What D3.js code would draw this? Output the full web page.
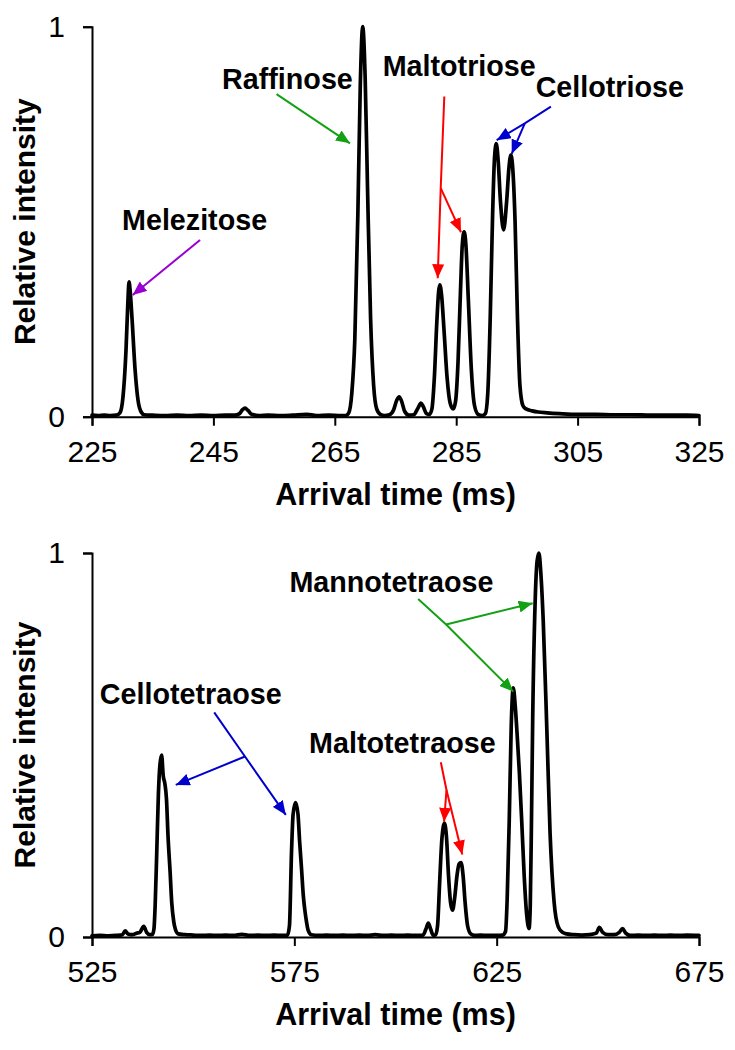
<!DOCTYPE html>
<html><head><meta charset="utf-8">
<script src="https://cdn.jsdelivr.net/npm/d3@7"></script>
<style>body{margin:0;background:#fff} svg{display:block}</style>
</head><body><svg id="c" width="735" height="1050"></svg>
<script>
// ---------- DATA ----------
// Top panel trace: [arrival time (ms), relative intensity]
const topTrace = [
 [225,0.004],[226,0.003],[227,0.004],[228,0.003],[229,0.004],[229.6,0.010],[230.1,0.05],[230.6,0.17],
 [230.9,0.29],[231.1,0.346],[231.3,0.32],[231.6,0.25],[232.1,0.12],[232.6,0.04],[233.1,0.012],[233.6,0.005],
 [235,0.004],[237,0.003],[239,0.004],[241,0.003],[243,0.004],[245,0.003],[247,0.004],[248.5,0.004],
 [249.3,0.008],[249.8,0.018],[250.2,0.022],[250.7,0.016],[251.3,0.006],[252.5,0.003],[254,0.004],[256,0.003],
 [258,0.004],[260.4,0.006],[262,0.003],[264,0.004],[266,0.003],[266.8,0.003],[267.3,0.01],[267.8,0.06],
 [268.3,0.20],[268.8,0.52],[269.2,0.85],[269.6,1.0],[270.0,0.87],[270.4,0.58],[270.9,0.25],[271.4,0.08],
 [271.9,0.02],[272.5,0.006],[273.2,0.003],[274.0,0.005],[274.7,0.018],[275.2,0.042],[275.6,0.051],[276.0,0.04],
 [276.5,0.014],[277.2,0.004],[278.0,0.005],[278.7,0.022],[279.2,0.035],[279.6,0.025],[280.1,0.008],[280.6,0.006],
 [281.0,0.02],[281.4,0.10],[281.8,0.24],[282.1,0.32],[282.3,0.338],[282.6,0.31],[283.0,0.22],[283.5,0.10],
 [284.0,0.035],[284.5,0.02],[284.9,0.04],[285.3,0.14],[285.7,0.32],[286.0,0.44],[286.3,0.474],[286.6,0.44],
 [287.0,0.30],[287.5,0.12],[288.0,0.03],[288.6,0.006],[289.3,0.003],[289.8,0.008],[290.2,0.06],[290.6,0.25],
 [291.0,0.52],[291.3,0.66],[291.6,0.70],[291.9,0.66],[292.3,0.55],[292.8,0.479],[293.3,0.55],[293.7,0.64],
 [294.0,0.671],[294.3,0.64],[294.7,0.50],[295.1,0.25],[295.5,0.08],[296.0,0.028],[296.5,0.02],[297.5,0.015],
 [298.5,0.012],[300,0.010],[302,0.008],[305,0.006],[308,0.006],[311,0.005],[314,0.005],[317,0.004],
 [320,0.004],[323,0.004],[325,0.003]
];
// Bottom panel trace
const bottomTrace = [
 [525,0.003],[527,0.004],[529,0.003],[531,0.004],[532.5,0.006],[533.2,0.016],[533.9,0.008],[535,0.006],
 [536,0.01],[536.8,0.012],[537.8,0.028],[538.5,0.012],[539.3,0.006],[539.9,0.006],[540.3,0.02],[540.6,0.08],
 [541.0,0.22],[541.4,0.37],[541.8,0.45],[542.2,0.474],[542.6,0.42],[543.0,0.40],[543.4,0.36],[543.8,0.26],
 [544.3,0.17],[544.7,0.09],[545.2,0.04],[545.6,0.02],[546.3,0.008],[548,0.006],[550,0.005],[552,0.004],
 [554,0.005],[556,0.004],[558,0.005],[560,0.004],[562,0.007],[564,0.004],[566,0.005],[568,0.004],
 [570,0.005],[572,0.004],[573.3,0.005],[573.8,0.03],[574.3,0.22],[574.7,0.32],[575.3,0.35],[575.9,0.32],
 [576.3,0.25],[576.8,0.175],[577.2,0.11],[577.6,0.07],[578.0,0.04],[578.4,0.018],[579.2,0.006],[581,0.004],
 [583,0.005],[585,0.004],[587,0.005],[589,0.004],[591,0.005],[593,0.004],[595,0.006],[597,0.004],
 [599,0.005],[601,0.004],[603,0.005],[605,0.004],[606.8,0.005],[607.5,0.02],[608.1,0.036],[608.7,0.02],
 [609.3,0.005],[609.9,0.005],[610.4,0.03],[610.9,0.14],[611.5,0.26],[612.1,0.296],[612.6,0.26],[613.1,0.16],
 [613.6,0.09],[614.1,0.07],[614.6,0.10],[615.2,0.16],[615.7,0.19],[616.2,0.194],[616.7,0.16],[617.2,0.09],
 [617.8,0.03],[618.6,0.008],[619.5,0.004],[621,0.005],[623,0.004],[625,0.004],[626.5,0.005],[627.2,0.015],
 [627.6,0.1],[628.1,0.30],[628.6,0.55],[629.1,0.649],[629.6,0.60],[630.1,0.52],[630.6,0.43],[631.2,0.30],
 [631.8,0.16],[632.4,0.06],[633.0,0.022],[633.3,0.08],[633.6,0.30],[633.9,0.565],[634.5,0.87],[635.0,0.98],
 [635.45,1.0],[635.9,0.95],[636.5,0.825],[637.4,0.54],[638.2,0.27],[639.2,0.09],[640.2,0.027],[641.3,0.012],
 [642.3,0.008],[644,0.006],[646,0.005],[648,0.006],[649.6,0.01],[650.4,0.025],[651.2,0.012],[652.5,0.006],
 [654,0.006],[655.3,0.012],[656.1,0.022],[656.9,0.01],[658,0.004],[660,0.005],[662,0.004],[664,0.005],
 [666,0.004],[668,0.005],[670,0.004],[672,0.005],[675,0.004]
];
const topXTicks = [225,245,265,285,305,325];
const bottomXTicks = [525,575,625,675];
const yTicks = [0,1];
const xTitle = "Arrival time (ms)";
const yTitle = "Relative intensity";

// Annotation labels (positioned in data units)
const topLabels = [
 {text:"Melezitose", t:241.9, v:0.479},
 {text:"Raffinose", t:257.2, v:0.840},
 {text:"Maltotriose", t:285.5, v:0.874},
 {text:"Cellotriose", t:310.3, v:0.819}
];
const bottomLabels = [
 {text:"Cellotetraose", t:549.4, v:0.607},
 {text:"Mannotetraose", t:599.0, v:0.899},
 {text:"Maltotetraose", t:601.7, v:0.478}
];
// Arrow polylines (data units); arrowhead at last point
const topArrows = [
 {color:"purple", pts:[[242.8,0.453],[231.7,0.312]]},
 {color:"green",  pts:[[255.4,0.827],[267.5,0.701]]},
 {color:"red",    pts:[[283.04,0.821],[282.45,0.586],[281.95,0.355]]},
 {color:"red",    pts:[[282.45,0.586],[285.79,0.473]]},
 {color:"blue",   pts:[[300.6,0.795],[296.3,0.752],[291.67,0.709]]},
 {color:"blue",   pts:[[296.3,0.752],[294.14,0.674]]}
];
const bottomArrows = [
 {color:"blue",  pts:[[555.2,0.585],[562.8,0.470],[572.9,0.318]]},
 {color:"blue",  pts:[[562.8,0.470],[545.7,0.396]]},
 {color:"green", pts:[[605.6,0.880],[612.5,0.814],[629.1,0.639]]},
 {color:"green", pts:[[612.5,0.814],[633.9,0.869]]},
 {color:"red",   pts:[[611.2,0.455],[612.6,0.383],[612.0,0.300]]},
 {color:"red",   pts:[[612.6,0.383],[616.5,0.215]]}
];

// ---------- DRAW ----------
const FONT = "'Liberation Sans', Arial, Helvetica, sans-serif";
const COLORS = {purple:"#9a00d4", green:"#14a014", red:"#ff0000", blue:"#0000cc"};
const svg = d3.select("#c");
const defs = svg.append("defs");
Object.entries(COLORS).forEach(([k,c]) => {
  defs.append("marker").attr("id","ah-"+k)
    .attr("markerUnits","userSpaceOnUse").attr("markerWidth",15).attr("markerHeight",12)
    .attr("refX",14).attr("refY",6).attr("orient","auto")
    .append("path").attr("d","M0,0 L14,6 L0,12 Z").attr("fill",c);
});

function panel(cfg) {
  const x = d3.scaleLinear().domain(cfg.xDomain).range([92, 699]);
  const y = d3.scaleLinear().domain([0,1]).range(cfg.yRange);
  const g = svg.append("g");

  const xa = g.append("g").attr("transform",`translate(0,${cfg.yRange[0]})`)
    .call(d3.axisBottom(x).tickValues(cfg.xTicks).tickSize(9).tickPadding(15).tickFormat(d3.format("d")));
  const ya = g.append("g").attr("transform",`translate(92,0)`)
    .call(d3.axisLeft(y).tickValues(yTicks).tickSize(9).tickPadding(18).tickFormat(d3.format("d")));
  [xa,ya].forEach(a => {
    a.select(".domain").attr("stroke","#000").attr("stroke-width",2);
    a.selectAll(".tick line").attr("stroke","#000").attr("stroke-width",2);
    a.selectAll(".tick text").attr("font-family",FONT).attr("font-size",30).attr("fill","#000");
  });

  const line = d3.line().x(d => x(d[0])).y(d => y(d[1])).curve(d3.curveMonotoneX);
  g.append("path").datum(cfg.trace).attr("d",line)
    .attr("fill","none").attr("stroke","#000").attr("stroke-width",3.7)
    .attr("stroke-linejoin","round").attr("stroke-linecap","round");

  // axis titles
  g.append("text").attr("x",(92+699)/2).attr("y",cfg.yRange[0]+88)
    .attr("text-anchor","middle").attr("font-family",FONT).attr("font-weight","bold")
    .attr("font-size",30.5).text(xTitle);
  g.append("text").attr("transform",`translate(35,${(cfg.yRange[0]+cfg.yRange[1])/2}) rotate(-90)`)
    .attr("text-anchor","middle").attr("font-family",FONT).attr("font-weight","bold")
    .attr("font-size",30).text(yTitle);

  // annotations
  g.selectAll("text.lab").data(cfg.labels).join("text").attr("class","lab")
    .attr("x",d => x(d.t)).attr("y",d => y(d.v))
    .attr("text-anchor","middle").attr("font-family",FONT).attr("font-weight","bold")
    .attr("font-size",28.7).text(d => d.text);
  const aline = d3.line().x(d => x(d[0])).y(d => y(d[1]));
  g.selectAll("path.arr").data(cfg.arrows).join("path").attr("class","arr")
    .attr("d",d => aline(d.pts)).attr("fill","none")
    .attr("stroke",d => COLORS[d.color]).attr("stroke-width",2)
    .attr("marker-end",d => `url(#ah-${d.color})`);
}

panel({xDomain:[225,325], yRange:[416.7,26.7], xTicks:topXTicks, trace:topTrace, labels:topLabels, arrows:topArrows});
panel({xDomain:[525,675], yRange:[937,553], xTicks:bottomXTicks, trace:bottomTrace, labels:bottomLabels, arrows:bottomArrows});
</script></body></html>
